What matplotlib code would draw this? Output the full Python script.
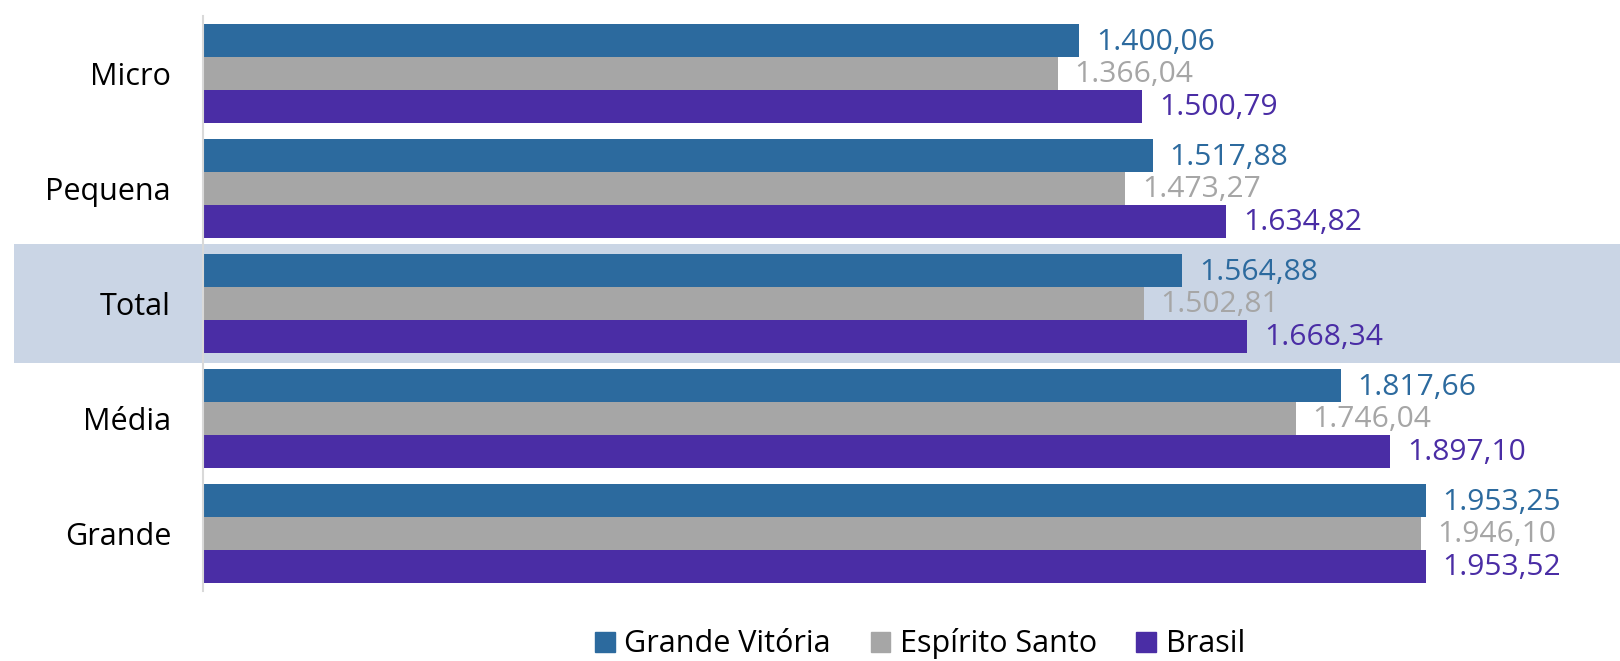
import matplotlib.pyplot as plt
from matplotlib.patches import Patch
import numpy as np

# Category order, top to bottom
categories = ["Micro", "Pequena", "Total", "Média", "Grande"]
series_names = ["Grande Vitória", "Espírito Santo", "Brasil"]

grande_vitoria = [1400.06, 1517.88, 1564.88, 1817.66, 1953.25]
espirito_santo = [1366.04, 1473.27, 1502.81, 1746.04, 1946.10]
brasil = [1500.79, 1634.82, 1668.34, 1897.10, 1953.52]

highlight = "Total"

# --- Style ---
COLORS = ["#2C6A9E", "#A6A6A6", "#4A2DA5"]
LABEL_COLORS = ["#2C6A9E", "#A6A6A6", "#4A2DA5"]
BAND_COLOR = "#CAD5E5"
FONT = ["Open Sans", "DejaVu Sans"]

plt.rcParams["font.family"] = FONT


def br_format(v):
    # 1,400.06 -> 1.400,06
    s = f"{v:,.2f}"
    return s.replace(",", "X").replace(".", ",").replace("X", ".")


fig = plt.figure(figsize=(16.2, 6.61), dpi=100)
ax = fig.add_axes([203 / 1620, 1 - 591 / 661, 1 - 203 / 1620, 575 / 661])

y = np.arange(len(categories))
bar_h = 0.285
all_series = [grande_vitoria, espirito_santo, brasil]

# highlight band behind the "Total" row, running into the label area
hi = categories.index(highlight)
ax.axhspan(hi - 0.515, hi + 0.515, xmin=-0.1334, xmax=1.0,
           color=BAND_COLOR, zorder=0, clip_on=False, lw=0)

for i, (vals, name) in enumerate(zip(all_series, series_names)):
    offs = (i - 1) * bar_h
    bars = ax.barh(y + offs, vals, height=bar_h, color=COLORS[i],
                   label=name, zorder=2)
    for b, v in zip(bars, vals):
        ax.annotate(br_format(v), (b.get_width(), b.get_y() + b.get_height() / 2),
                    xytext=(12, -1), textcoords="offset points",
                    va="center", ha="left", fontsize=21.6,
                    color=LABEL_COLORS[i], zorder=3)

ax.set_xlim(0, 2264)
ax.set_ylim(len(categories) - 0.5, -0.5)
ax.set_yticks(y)
ax.set_yticklabels(categories, fontsize=22)
ax.tick_params(axis="y", length=0, pad=23)
ax.set_xticks([])

for s in ["top", "right", "bottom"]:
    ax.spines[s].set_visible(False)
ax.spines["left"].set_color("#D9D9D9")
ax.spines["left"].set_linewidth(1.5)
ax.patch.set_alpha(0)

# legend sits at the very bottom; kept just inside the figure edge
handles = [Patch(color=c) for c in COLORS]
fig.legend(handles, series_names, loc="lower center",
           bbox_to_anchor=(920 / 1620, 0.0), ncol=3, frameon=False,
           fontsize=22, handlelength=0.65, handleheight=0.65,
           handletextpad=0.3, columnspacing=1.3, borderpad=0.0,
           borderaxespad=0.05)

fig.savefig("out.png", dpi=100)
